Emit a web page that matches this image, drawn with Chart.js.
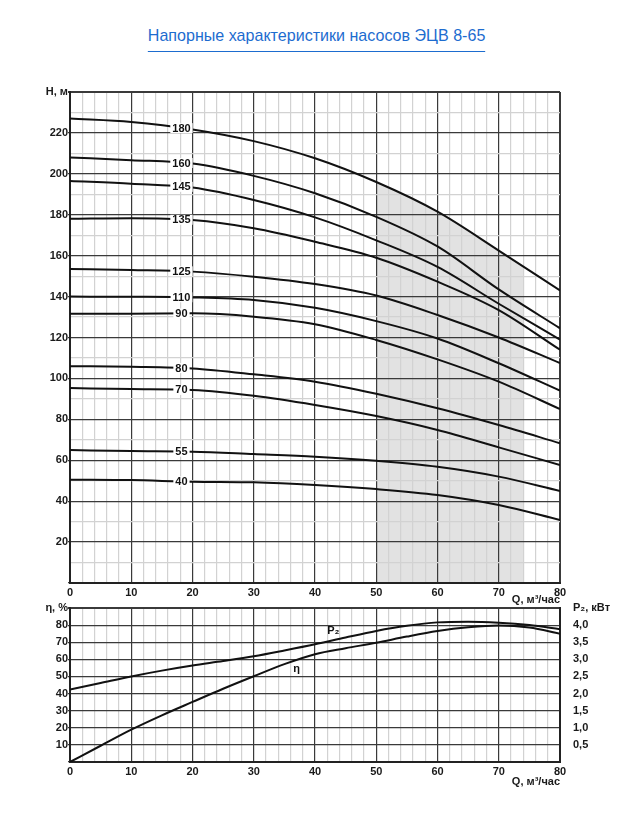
<!DOCTYPE html>
<html lang="ru">
<head>
    <meta charset="UTF-8">
    <title>Напорные характеристики насосов ЭЦВ 8-65</title>
    <script src="https://cdn.jsdelivr.net/npm/chart.js"></script>
    <style>
        body {
            margin: 0;
            background: #fff;
            width: 634px;
            height: 815px;
            overflow: hidden;
            position: relative;
            font-family: "Liberation Sans", Arial, sans-serif;
        }

        .title {
            position: absolute;
            top: 26px;
            left: 0;
            width: 634px;
            text-align: center;
        }

        .title span {
            display: inline-block;
            font-size: 17px;
            line-height: 20px;
            color: #1d6ccf;
            padding-bottom: 5px;
            border-bottom: 1px solid #1d6ccf;
            transform: scaleX(0.945);
        }

        canvas {
            position: absolute;
            left: 0;
        }
    </style>
</head>
<body>
    <div class="title"><span>Напорные характеристики насосов ЭЦВ 8-65</span></div>
    <canvas id="headChart" width="634" height="530" style="top:80px"></canvas>
    <canvas id="effChart" width="634" height="215" style="top:595px"></canvas>

    <script>
        // подача, м3/час
        const qValues = [0, 10, 20, 30, 40, 50, 60, 70, 80];

        // напор, м (по числу ступеней)
        const curveLabels = ['180', '160', '145', '135', '125', '110', '90', '80', '70', '55', '40'];
        const head180 = [227, 225.3, 221.7, 216, 207.6, 196, 181.5, 162.5, 143];
        const head160 = [208, 206.7, 205, 199, 190.5, 179, 164.5, 143.5, 124.5];
        const head145 = [196.5, 195.2, 193.3, 187.2, 178.7, 167.5, 154.5, 136.5, 119];
        const head135 = [178, 178.3, 177.4, 173.4, 166.8, 159, 147.3, 133.4, 114];
        const head125 = [153.5, 153, 152.2, 149.7, 146.1, 140.5, 131, 120, 107.5];
        const head110 = [140, 139.9, 139.6, 138.3, 134.5, 128, 119.5, 107.4, 94];
        const head90 = [131.6, 131.6, 131.8, 130.2, 126.5, 118.8, 109.3, 98.4, 85];
        const head80 = [106, 105.7, 104.9, 102, 98.4, 92.5, 85.4, 77.2, 68.3];
        const head70 = [95.3, 94.8, 94.3, 91.5, 87, 81.6, 74.8, 66.3, 57.7];
        const head55 = [65, 64.5, 64.2, 63, 61.7, 59.7, 56.8, 52, 45];
        const head40 = [50.5, 50.3, 49.5, 49.2, 47.9, 45.9, 43, 38.1, 30.8];
        const headSeries = [head180, head160, head145, head135, head125, head110, head90, head80, head70, head55, head40];

        // рабочая зона
        const workFrom = 50;
        const workTo = 74;

        // КПД и мощность
        const qFine = [0, 5, 10, 15, 20, 25, 30, 35, 40, 45, 50, 55, 60, 65, 70, 75, 80];
        const etaValues = [0, 9.5, 18.9, 27.3, 35.1, 42.8, 50.1, 57.2, 63, 66.5, 69.7, 73.3, 76.5, 78.7, 79.8, 78.6, 75];
        const p2Values = [2.12, 2.31, 2.5, 2.67, 2.82, 2.95, 3.09, 3.26, 3.44, 3.64, 3.83, 3.98, 4.08, 4.1, 4.07, 4.0, 3.88];

        const tickFont = { family: '"Liberation Sans", Arial, sans-serif', size: 11, weight: 'bold' };
        const tickColor = '#1a1a1a';
        const darkGrid = '#3a3a3a';
        const lightGrid = '#d2d2d2';

        function toPoints(xs, ys) {
            return xs.map((x, i) => ({ x: x, y: ys[i] }));
        }

        function valueAt(xs, ys, q) {
            for (let i = 1; i < xs.length; i++) {
                if (q <= xs[i]) {
                    const t = (q - xs[i - 1]) / (xs[i] - xs[i - 1]);
                    return ys[i - 1] + t * (ys[i] - ys[i - 1]);
                }
            }
            return ys[ys.length - 1];
        }

        // заливка рабочей зоны под верхней кривой
        function workZoneFill(ctx) {
            const chart = ctx.chart;
            const area = chart.chartArea;
            const xs = chart.scales.x;
            if (!area || !xs) return 'rgba(0,0,0,0)';
            const w = area.right - area.left;
            const f1 = (xs.getPixelForValue(workFrom) - area.left) / w;
            const f2 = (xs.getPixelForValue(workTo) - area.left) / w;
            const g = chart.ctx.createLinearGradient(area.left, 0, area.right, 0);
            g.addColorStop(0, 'rgba(0,0,0,0)');
            g.addColorStop(f1, 'rgba(0,0,0,0)');
            g.addColorStop(f1, '#e2e2e2');
            g.addColorStop(f2, '#e2e2e2');
            g.addColorStop(f2, 'rgba(0,0,0,0)');
            g.addColorStop(1, 'rgba(0,0,0,0)');
            return g;
        }

        function qGridColor(c) {
            return c.tick && c.tick.value % 10 === 0 ? darkGrid : lightGrid;
        }

        function qGridWidth(c) {
            const v = c.tick ? c.tick.value : 0;
            if (v === 0 || v === 80) return 2;
            return 1.2;
        }

        const qAxis = {
            type: 'linear',
            min: 0,
            max: 80,
            ticks: {
                stepSize: 2,
                autoSkip: false,
                maxRotation: 0,
                padding: 1,
                font: tickFont,
                color: tickColor,
                callback: v => (v % 10 === 0 ? String(v) : '')
            },
            grid: { color: qGridColor, lineWidth: qGridWidth, tickLength: 2, tickColor: 'rgba(0,0,0,0)' },
            border: { color: '#222', width: 2 },
            title: { display: true, text: 'Q, м³/час', align: 'end', padding: 0, font: tickFont, color: tickColor }
        };

        // подписи кривых
        const labelQ = 18.2;
        const curveLabelPlugin = {
            id: 'curveLabels',
            afterDatasetsDraw(chart) {
                const { ctx, scales: { x, y } } = chart;
                ctx.save();
                ctx.font = 'bold 11px "Liberation Sans", Arial, sans-serif';
                ctx.textAlign = 'center';
                ctx.textBaseline = 'middle';
                headSeries.forEach((arr, i) => {
                    const px = x.getPixelForValue(labelQ);
                    const py = y.getPixelForValue(valueAt(qValues, arr, labelQ));
                    const w = ctx.measureText(curveLabels[i]).width + 4;
                    ctx.fillStyle = '#fff';
                    ctx.fillRect(px - w / 2, py - 5, w, 10);
                    ctx.fillStyle = '#111';
                    ctx.fillText(curveLabels[i], px, py + 0.5);
                });
                ctx.restore();
            }
        };

        new Chart(document.getElementById('headChart'), {
            type: 'line',
            data: {
                datasets: headSeries.map((arr, i) => ({
                    label: curveLabels[i],
                    data: toPoints(qValues, arr),
                    fill: i === 0 ? 'origin' : false,
                    backgroundColor: i === 0 ? workZoneFill : 'rgba(0,0,0,0)'
                }))
            },
            options: {
                responsive: false,
                animation: false,
                layout: { padding: { left: 0, right: 74, top: 12, bottom: 3 } },
                plugins: {
                    legend: { display: false },
                    tooltip: { enabled: false },
                    filler: { drawTime: 'beforeDraw' }
                },
                elements: {
                    point: { radius: 0 },
                    line: { borderWidth: 2, borderColor: '#111', cubicInterpolationMode: 'monotone' }
                },
                scales: {
                    x: Object.assign({}, qAxis, { afterFit: s => { s.height = 24; } }),
                    y: {
                        min: 0,
                        max: 240,
                        ticks: {
                            stepSize: 10,
                            autoSkip: false,
                            padding: 0,
                            font: tickFont,
                            color: tickColor,
                            callback: v => (v === 240 ? 'H, м' : (v > 0 && v % 20 === 0 ? String(v) : ''))
                        },
                        grid: {
                            color: c => (c.tick && c.tick.value % 20 === 0 ? darkGrid : lightGrid),
                            lineWidth: c => (c.tick && c.tick.value === 240 ? 2 : 1.2),
                            tickLength: 2,
                            tickColor: c => (c.tick && c.tick.value % 20 === 0 ? darkGrid : 'rgba(0,0,0,0)')
                        },
                        border: { color: '#222', width: 2 },
                        afterFit: s => { s.width = 70; }
                    }
                }
            },
            plugins: [curveLabelPlugin]
        });

        // подписи η и P2
        const notePlugin = {
            id: 'notes',
            afterDatasetsDraw(chart) {
                const { ctx, scales: { x, y, p } } = chart;
                ctx.save();
                ctx.font = 'bold 11px "Liberation Sans", Arial, sans-serif';
                ctx.textAlign = 'center';
                ctx.textBaseline = 'middle';
                ctx.fillStyle = '#111';
                const qp = 43, qe = 37;
                ctx.fillText('P₂', x.getPixelForValue(qp), p.getPixelForValue(valueAt(qFine, p2Values, qp)) - 9);
                ctx.fillText('η', x.getPixelForValue(qe), y.getPixelForValue(valueAt(qFine, etaValues, qe)) + 9);
                ctx.restore();
            }
        };

        new Chart(document.getElementById('effChart'), {
            type: 'line',
            data: {
                datasets: [
                    { label: 'P2', data: toPoints(qFine, p2Values), yAxisID: 'p' },
                    { label: 'η', data: toPoints(qFine, etaValues), yAxisID: 'y' }
                ]
            },
            options: {
                responsive: false,
                animation: false,
                layout: { padding: { left: 0, right: 0, top: 13, bottom: 21 } },
                plugins: { legend: { display: false }, tooltip: { enabled: false } },
                elements: {
                    point: { radius: 0 },
                    line: { borderWidth: 2, borderColor: '#111', fill: false, cubicInterpolationMode: 'monotone' }
                },
                scales: {
                    x: Object.assign({}, qAxis, { afterFit: s => { s.height = 27; } }),
                    y: {
                        position: 'left',
                        min: 0,
                        max: 90,
                        ticks: {
                            stepSize: 10,
                            autoSkip: false,
                            padding: 0,
                            font: tickFont,
                            color: tickColor,
                            callback: v => (v === 90 ? 'η, %' : (v > 0 ? String(v) : ''))
                        },
                        grid: {
                            color: darkGrid,
                            lineWidth: c => (c.tick && c.tick.value === 90 ? 2 : 1.2),
                            tickLength: 2,
                            tickColor: darkGrid
                        },
                        border: { color: '#222', width: 2 },
                        afterFit: s => { s.width = 70; }
                    },
                    p: {
                        position: 'right',
                        min: 0,
                        max: 4.5,
                        ticks: {
                            stepSize: 0.5,
                            autoSkip: false,
                            padding: 5,
                            font: tickFont,
                            color: tickColor,
                            callback: v => {
                                const r = Math.round(v * 10) / 10;
                                if (r === 4.5) return 'P₂, кВт';
                                if (r === 0) return '';
                                return r.toFixed(1).replace('.', ',');
                            }
                        },
                        grid: { display: false },
                        border: { color: '#222', width: 2 },
                        afterFit: s => { s.width = 74; }
                    }
                }
            },
            plugins: [notePlugin]
        });
    </script>
</body>
</html>
